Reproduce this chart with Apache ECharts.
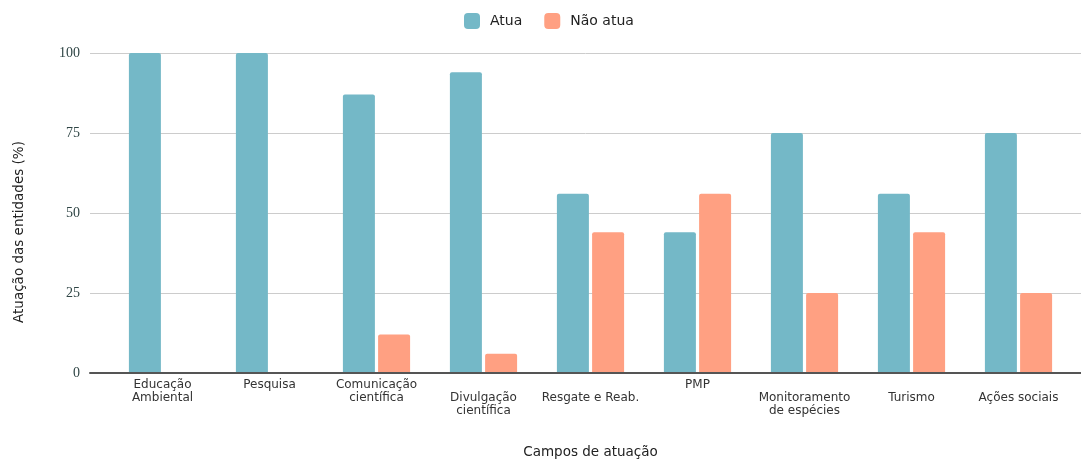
<!DOCTYPE html>
<html>
<head>
<meta charset="utf-8">
<script src="https://cdn.jsdelivr.net/npm/echarts@6/dist/echarts.min.js"></script>
<style>html,body{margin:0;padding:0;background:#fff;}#c{width:1081px;height:459px;}</style>
</head>
<body>
<div id="c"></div>
<script>
const categories = ["Educação\nAmbiental", "Pesquisa", "Comunicação\ncientífica", "Divulgação\ncientífica", "Resgate e Reab.", "PMP", "Monitoramento\nde espécies", "Turismo", "Ações sociais"];
const atua = [100, 100, 87, 94, 56, 44, 75, 56, 75];
const naoAtua = [0, 0, 12, 6, 44, 56, 25, 44, 25];
const yTicks = [0, 25, 50, 75, 100];
const seriesNames = ["Atua", "Não atua"];

// label row layout (style only): which labels sit one line lower
const lowerRow = [false, false, false, true, true, false, true, true, true];

const chart = echarts.init(document.getElementById('c'), null, {renderer: 'canvas'});
const sans = '"DejaVu Sans", Verdana, sans-serif';
chart.setOption({
  animation: false,
  legend: {
    data: seriesNames,
    left: 459, top: 8,
    itemWidth: 16, itemHeight: 16, itemGap: 22,
    icon: 'roundRect',
    textStyle: {fontFamily: sans, fontSize: 14, color: '#222', padding: [0, 0, 0, 5]}
  },
  grid: [
    {left: 90, right: 0, top: 53, bottom: 86, containLabel: false, outerBoundsMode: 'none'},
    {left: 109, right: 9, top: 53, bottom: 86, containLabel: false, outerBoundsMode: 'none'}
  ],
  xAxis: [
    {gridIndex: 0, type: 'value', min: 0, max: 1, axisLine: {show: true, lineStyle: {color: '#555', width: 2}}, axisTick: {show: false}, axisLabel: {show: false}, splitLine: {show: false}, z: 5},
    {gridIndex: 1, type: 'category', data: categories, axisLine: {show: false}, axisTick: {show: false},
     axisLabel: {interval: 0, margin: 5, fontFamily: sans, fontSize: 12, lineHeight: 13, color: '#333', verticalAlign: 'top',
       formatter: function (v, i) { return (lowerRow[i] ? '\n' : '') + v; }},
     name: 'Campos de atuação', nameLocation: 'middle', nameGap: 72,
     nameTextStyle: {fontFamily: sans, fontSize: 13.5, color: '#222', verticalAlign: 'top'}}
  ],
  yAxis: [
    {gridIndex: 0, type: 'value', min: yTicks[0], max: yTicks[yTicks.length - 1], interval: yTicks[1] - yTicks[0],
     axisLine: {show: false}, axisTick: {show: false},
     axisLabel: {margin: 10, fontFamily: '"Liberation Serif", "DejaVu Serif", serif', fontSize: 14, color: '#2f4545'},
     splitLine: {lineStyle: {color: '#cccccc', width: 1}},
     name: 'Atuação das entidades (%)', nameLocation: 'middle', nameGap: 64,
     nameTextStyle: {fontFamily: sans, fontSize: 13.5, color: '#222', padding: [0, 38, 0, 0]}},
    {gridIndex: 1, type: 'value', min: 0, max: 100, show: false, splitLine: {show: false}}
  ],
  series: [
    {name: seriesNames[0], type: 'bar', xAxisIndex: 1, yAxisIndex: 1, data: atua, barWidth: 32, barGap: '10%',
     itemStyle: {color: '#74b8c7', borderRadius: [2, 2, 0, 0]}},
    {name: seriesNames[1], type: 'bar', xAxisIndex: 1, yAxisIndex: 1, data: naoAtua, barWidth: 32, barGap: '10%',
     itemStyle: {color: '#ffa082', borderRadius: [2, 2, 0, 0]}}
  ]
});
</script>
</body>
</html>
